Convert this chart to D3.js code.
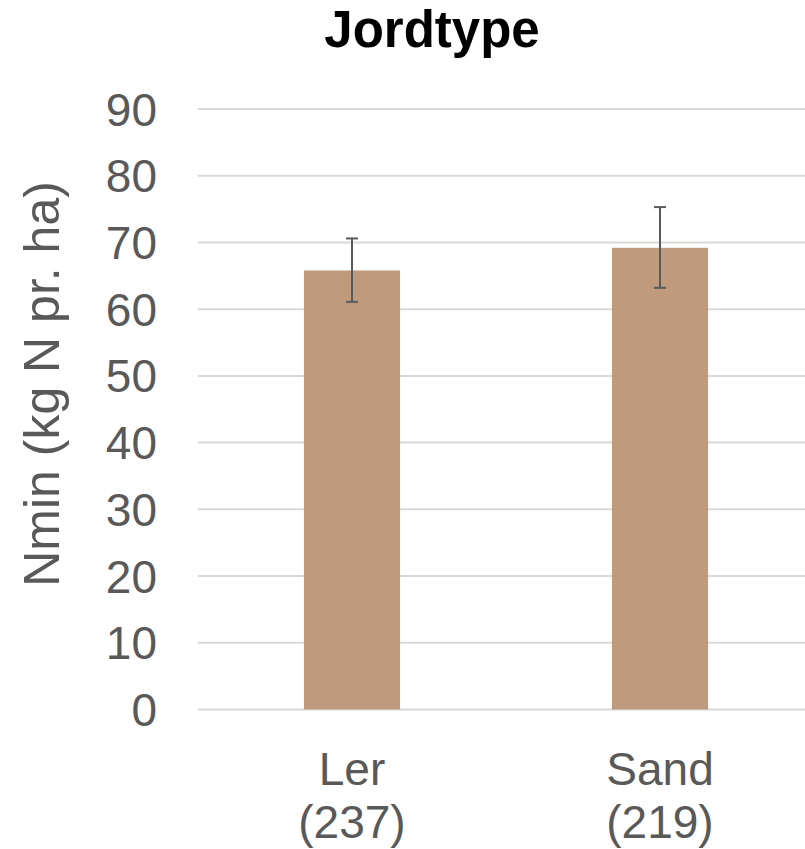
<!DOCTYPE html>
<html>
<head>
<meta charset="utf-8">
<script src="https://cdn.jsdelivr.net/npm/d3@7"></script>
<style>
  html, body { margin: 0; padding: 0; background: #fff; }
  svg { display: block; font-family: "Liberation Sans", Arial, sans-serif; }
</style>
</head>
<body>
<div id="chart"></div>
<script>
// data
const categories = ['Ler', 'Sand'];
const counts = ['(237)', '(219)'];
const values = [65.8, 69.2];
const errLow = [61.1, 63.2];
const errHigh = [70.6, 75.3];
const yTicks = [0, 10, 20, 30, 40, 50, 60, 70, 80, 90];

const width = 805;
const height = 849;
const margin = { top: 109, right: -9, bottom: 139.5, left: 198 };

const svg = d3.select('#chart')
  .append('svg')
  .attr('width', width)
  .attr('height', height);

const x = d3.scaleBand()
  .domain(categories)
  .range([margin.left, width - margin.right])
  .paddingInner(0.688)
  .paddingOuter(0.344);

const y = d3.scaleLinear()
  .domain([0, 90])
  .range([height - margin.bottom, margin.top]);

// gridlines
svg.append('g')
  .selectAll('line')
  .data(yTicks)
  .join('line')
  .attr('x1', margin.left)
  .attr('x2', width - margin.right)
  .attr('y1', d => y(d))
  .attr('y2', d => y(d))
  .attr('stroke', '#d9d9d9')
  .attr('stroke-width', 2);

// y tick labels
svg.append('g')
  .selectAll('text')
  .data(yTicks)
  .join('text')
  .attr('x', 157)
  .attr('y', d => y(d))
  .attr('dy', '0.36em')
  .attr('text-anchor', 'end')
  .attr('font-size', 46)
  .attr('fill', '#595959')
  .text(d => d);

// bars
svg.append('g')
  .selectAll('rect')
  .data(categories)
  .join('rect')
  .attr('x', d => x(d))
  .attr('width', x.bandwidth())
  .attr('y', (d, i) => y(values[i]))
  .attr('height', (d, i) => y(0) - y(values[i]))
  .attr('fill', '#bf9a7d');

// error bars
const err = svg.append('g')
  .attr('stroke', '#595959')
  .attr('stroke-width', 2)
  .selectAll('g')
  .data(categories)
  .join('g');
const cx = d => x(d) + x.bandwidth() / 2;
err.append('line')
  .attr('x1', cx).attr('x2', cx)
  .attr('y1', (d, i) => y(errLow[i]))
  .attr('y2', (d, i) => y(errHigh[i]));
err.append('line')
  .attr('x1', d => cx(d) - 6).attr('x2', d => cx(d) + 6)
  .attr('y1', (d, i) => y(errHigh[i]))
  .attr('y2', (d, i) => y(errHigh[i]));
err.append('line')
  .attr('x1', d => cx(d) - 6).attr('x2', d => cx(d) + 6)
  .attr('y1', (d, i) => y(errLow[i]))
  .attr('y2', (d, i) => y(errLow[i]));

// category labels
const cat = svg.append('g')
  .attr('text-anchor', 'middle')
  .attr('font-size', 46)
  .attr('fill', '#595959');
cat.selectAll('text.name')
  .data(categories)
  .join('text')
  .attr('class', 'name')
  .attr('x', cx)
  .attr('y', 785)
  .text(d => d);
cat.selectAll('text.count')
  .data(categories)
  .join('text')
  .attr('class', 'count')
  .attr('x', cx)
  .attr('y', 838)
  .text((d, i) => counts[i]);

// y axis title
svg.append('text')
  .attr('transform', 'translate(59,384) rotate(-90)')
  .attr('text-anchor', 'middle')
  .attr('font-size', 50)
  .attr('fill', '#595959')
  .text('Nmin (kg N pr. ha)');

// title
svg.append('text')
  .attr('x', 432)
  .attr('y', 47)
  .attr('text-anchor', 'middle')
  .attr('font-size', 51)
  .attr('font-weight', 'bold')
  .attr('fill', '#000')
  .text('Jordtype');
</script>
</body>
</html>
